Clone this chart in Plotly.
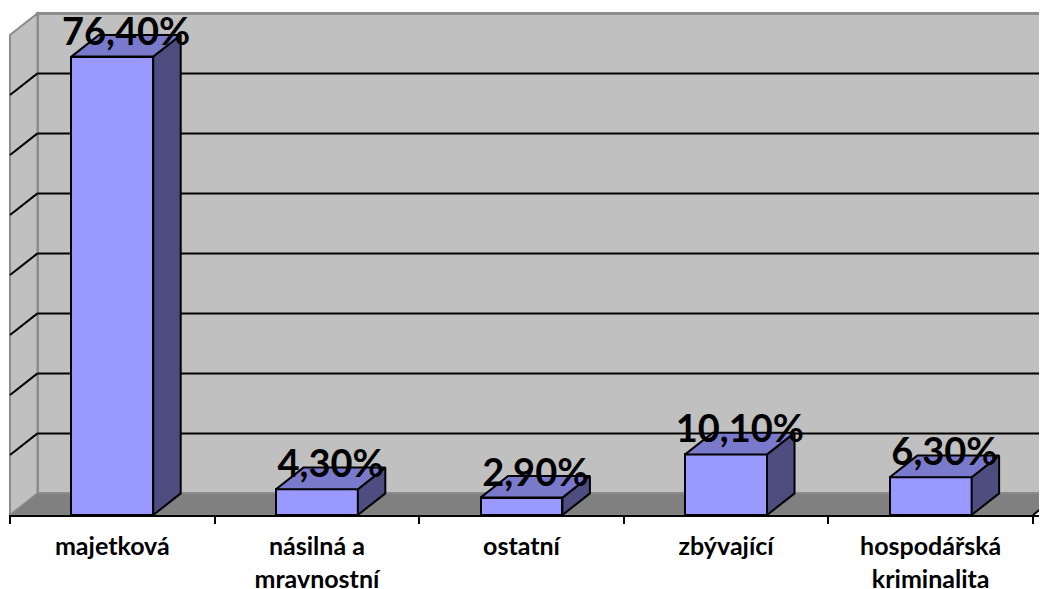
import plotly.graph_objects as go

categories = ["majetková", "násilná a<br>mravnostní", "ostatní", "zbývající", "hospodářská<br>kriminalita"]
values = [76.4, 4.3, 2.9, 10.1, 6.3]
labels = ["76,40%", "4,30%", "2,90%", "10,10%", "6,30%"]
grid_values = [10, 20, 30, 40, 50, 60, 70]
y_max = 80

# page body has an 8px margin: the figure starts at (8, 8) of the window
W, H = 1039, 581
PX_X = 204.6
PX_Y = 6.0
ML, MB = 1, 74
x0 = -0.5 - 1 / PX_X
x1 = x0 + (W - ML) / PX_X
y1 = (H - MB) / PX_Y
DX = 27.5 / PX_X
DY = 3.6
BW = 0.4
xs = list(range(len(categories)))

FRONT = "#9999FF"
TOP = "#7A7ACC"
SIDE = "#4D4D80"

fig = go.Figure()

# front faces
fig.add_trace(go.Bar(x=xs, y=values, width=BW, base=0,
                     marker=dict(color=FRONT, line=dict(color="black", width=2)),
                     hoverinfo="skip", showlegend=False))

# side faces & top faces
sx, sy, tx, ty = [], [], [], []
for x, v in zip(xs, values):
    r = x + BW / 2
    l = x - BW / 2
    sx += [r, r + DX, r + DX, r, r, None]
    sy += [0, DY, v + DY, v, 0, None]
    tx += [l, r, r + DX, l + DX, l, None]
    ty += [v, v, v + DY, v + DY, v, None]
fig.add_trace(go.Scatter(x=sx, y=sy, mode="lines", fill="toself", fillcolor=SIDE,
                         line=dict(color="black", width=2), hoverinfo="skip", showlegend=False))
fig.add_trace(go.Scatter(x=tx, y=ty, mode="lines", fill="toself", fillcolor=TOP,
                         line=dict(color="black", width=2), hoverinfo="skip", showlegend=False))

# data labels
fig.add_trace(go.Scatter(x=[x + DX / 2 for x in xs], y=[v + DY for v in values],
                         mode="text", text=["<b>%s</b>" % t for t in labels],
                         textposition="middle center",
                         textfont=dict(family="Lato", size=38, color="black"),
                         hoverinfo="skip", showlegend=False, cliponaxis=False))

shapes = []
# back wall
shapes.append(dict(type="rect", xref="x", yref="y", x0=-0.5 + DX, x1=x1 + 1, y0=DY, y1=y_max + DY,
                   fillcolor="#C0C0C0", line=dict(color="#8C8C8C", width=3), layer="below"))
# left wall
shapes.append(dict(type="path", xref="x", yref="y",
                   path=f"M {-0.5},0 L {-0.5},{y_max} L {-0.5 + DX},{y_max + DY} L {-0.5 + DX},{DY} Z",
                   fillcolor="#C0C0C0", line=dict(color="#8C8C8C", width=2), layer="below"))
# floor
shapes.append(dict(type="path", xref="x", yref="y",
                   path=f"M {-0.5},0 L {len(xs) - 0.5},0 L {len(xs) - 0.5 + DX},{DY} L {-0.5 + DX},{DY} Z",
                   fillcolor="#808080", line=dict(color="#8C8C8C", width=1), layer="below"))
# gridlines
for g in grid_values:
    shapes.append(dict(type="line", xref="x", yref="y", x0=-0.5 + DX, x1=x1 + 1, y0=g + DY, y1=g + DY,
                       line=dict(color="black", width=2), layer="below"))
    shapes.append(dict(type="line", xref="x", yref="y", x0=-0.5, x1=-0.5 + DX, y0=g, y1=g + DY,
                       line=dict(color="black", width=2), layer="below"))
# right floor edge
shapes.append(dict(type="line", xref="x", yref="y", x0=len(xs) - 0.5, x1=len(xs) - 0.5 + DX, y0=0, y1=DY,
                   line=dict(color="black", width=2), layer="below"))

fig.update_layout(
    width=W, height=H,
    margin=dict(l=ML, r=0, t=0, b=MB),
    paper_bgcolor="white", plot_bgcolor="white",
    shapes=shapes,
    xaxis=dict(range=[x0, x1], showgrid=False, zeroline=False,
               showline=True, linecolor="black", linewidth=2,
               tickvals=xs, ticktext=categories, ticks="",
               tickfont=dict(family="Lato", size=25, color="black", weight="bold"),
               ticklabelstandoff=8, automargin=False,
               minor=dict(tickvals=[x - 0.5 for x in xs] + [len(xs) - 0.5], ticks="outside",
                          ticklen=7, tickwidth=2, tickcolor="black", showgrid=False)),
    yaxis=dict(range=[0, y1], visible=False, fixedrange=True),
    bargap=0,
)

fig.write_html("out.html")
